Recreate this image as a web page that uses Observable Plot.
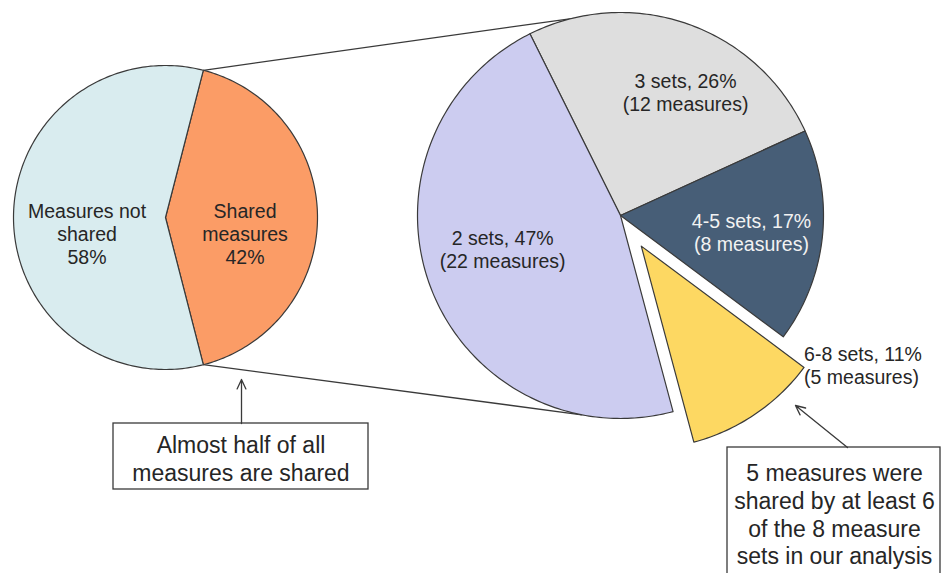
<!DOCTYPE html>
<html>
<head>
<meta charset="utf-8">
<script src="https://cdn.jsdelivr.net/npm/d3@7"></script>
<script src="https://cdn.jsdelivr.net/npm/@observablehq/plot@0.6"></script>
<style>
  html, body { margin: 0; padding: 0; background: #fff; }
  #chart svg { display: block; }
</style>
</head>
<body>
<div id="chart"></div>
<script>
// Overview pie: measures that appear in more than one measure set
const overviewKeys = ["shared", "notShared"];
const overviewLabels = ["Shared\nmeasures", "Measures not\nshared"];
const overviewPercents = [42, 58];

// Breakdown of the shared measures by number of measure sets (clockwise order)
const breakdownLabels = ["3 sets", "4-5 sets", "6-8 sets", "2 sets"];
const breakdownCounts = [12, 8, 5, 22];

// Callout texts
const calloutLeftLines = ["Almost half of all", "measures are shared"];
const calloutRightLines = ["5 measures were", "shared by at least 6", "of the 8 measure", "sets in our analysis"];

// ---- styling and layout ----
const W = 943, H = 573;
const deg = Math.PI / 180;
const font = "'Liberation Sans', Arial, Helvetica, sans-serif";
const outline = "#3a3a3a";
const textColor = "#262626";

const overviewFill = {shared: "#fb9c66", notShared: "#d9ecef"};
const breakdownFill = ["#dedede", "#475e77", "#fdd862", "#ccccf0"];
const breakdownText = [textColor, "#f2f2f2", textColor, textColor];

const pieL = {cx: 165, cy: 217, r: 152};
const pieR = {cx: 620, cy: 215, r: 203, start: -26.5 * deg};
const explodedIndex = 2;       // the 6-8 sets slice is pulled out
const explodeBy = 37;

// label placement inside the slices: radius fraction and angular nudge
const overviewLabelPos = [{rf: 0.534, da: 11.5 * deg}, {rf: 0.527, da: -11.6 * deg}];
const breakdownLabelPos = [{rf: 0.688, da: 8.3 * deg}, {rf: 0.65, da: 1 * deg}, null, {rf: 0.604, da: 4.8 * deg}];

// connector lines touch the breakdown pie at these angles
const connectTop = -14 * deg, connectBottom = 191 * deg;

const polar = (cx, cy, r, a) => ({x: cx + r * Math.sin(a), y: cy - r * Math.cos(a)});

function wedge(cx, cy, r, a0, a1, key, fill) {
  const n = Math.max(2, Math.ceil((a1 - a0) / deg));
  const pts = [{key, fill, x: cx, y: cy}];
  for (let i = 0; i <= n; ++i) {
    const p = polar(cx, cy, r, a0 + (a1 - a0) * i / n);
    pts.push({key, fill, x: p.x, y: p.y});
  }
  return pts;
}

// overview pie: shared slice centred on the right-hand side
const totalL = d3.sum(overviewPercents);
const startL = Math.PI / 2 - overviewPercents[0] / totalL * Math.PI;
const arcsL = d3.pie().sort(null).startAngle(startL).endAngle(startL + 2 * Math.PI)(overviewPercents);

const slices = [];
const labels = [];
arcsL.forEach((a, i) => {
  const key = overviewKeys[i];
  slices.push(...wedge(pieL.cx, pieL.cy, pieL.r, a.startAngle, a.endAngle, "L" + key, overviewFill[key]));
  const mid = (a.startAngle + a.endAngle) / 2 + overviewLabelPos[i].da;
  const p = polar(pieL.cx, pieL.cy, pieL.r * overviewLabelPos[i].rf, mid);
  labels.push({x: p.x, y: p.y, text: `${overviewLabels[i]}\n${overviewPercents[i]}%`, color: textColor});
});

// breakdown pie
const totalR = d3.sum(breakdownCounts);
const arcsR = d3.pie().sort(null).startAngle(pieR.start).endAngle(pieR.start + 2 * Math.PI)(breakdownCounts);
const outsideLabels = [];
arcsR.forEach((a, i) => {
  const mid = (a.startAngle + a.endAngle) / 2;
  let cx = pieR.cx, cy = pieR.cy;
  if (i === explodedIndex) {
    const o = polar(0, 0, explodeBy, mid);
    cx += o.x; cy += o.y;
  }
  slices.push(...wedge(cx, cy, pieR.r, a.startAngle, a.endAngle, "R" + i, breakdownFill[i]));
  const pct = Math.round(breakdownCounts[i] / totalR * 100);
  const text = `${breakdownLabels[i]}, ${pct}%\n(${breakdownCounts[i]} measures)`;
  if (breakdownLabelPos[i]) {
    const p = polar(pieR.cx, pieR.cy, pieR.r * breakdownLabelPos[i].rf, mid + breakdownLabelPos[i].da);
    labels.push({x: p.x, y: p.y, text, color: breakdownText[i]});
  } else {
    // placed just outside the outer corner of the pulled-out slice
    const p = polar(cx, cy, pieR.r, a.startAngle);
    outsideLabels.push({x: p.x, y: p.y - 2, text, color: breakdownText[i]});
  }
});

// connector lines from the shared slice to the breakdown pie
const sharedArc = arcsL[0];
const lTop = polar(pieL.cx, pieL.cy, pieL.r, sharedArc.startAngle);
const lBot = polar(pieL.cx, pieL.cy, pieL.r, sharedArc.endAngle);
const rTop = polar(pieR.cx, pieR.cy, pieR.r, connectTop);
const rBot = polar(pieR.cx, pieR.cy, pieR.r, connectBottom);
const connectors = [
  {x1: lTop.x, y1: lTop.y, x2: rTop.x, y2: rTop.y},
  {x1: lBot.x, y1: lBot.y, x2: rBot.x, y2: rBot.y}
];

// callout boxes and arrows
const callouts = [
  {x1: 113, x2: 368, y1: 423, y2: 489, tx: 240.5, ty: 457.5, text: calloutLeftLines.join("\n"),
   ax1: 241, ay1: 423, ax2: 241, ay2: 379},
  {x1: 727, x2: 940, y1: 447, y2: 600, tx: 834, ty: 513.5, text: calloutRightLines.join("\n"),
   ax1: 847, ay1: 447, ax2: 795, ay2: 405}
];

const chart = Plot.plot({
  width: W,
  height: H,
  margin: 0,
  x: {domain: [0, W], range: [0, W], axis: null},
  y: {domain: [0, H], range: [0, H], axis: null},
  color: {type: "identity"},
  style: {fontFamily: font, background: "#fff", overflow: "hidden"},
  marks: [
    Plot.link(connectors, {x1: "x1", y1: "y1", x2: "x2", y2: "y2", stroke: outline, strokeWidth: 1.3}),
    Plot.line(slices, {x: "x", y: "y", z: "key", fill: "fill", stroke: outline, strokeWidth: 1.2,
      curve: "linear-closed", strokeLinejoin: "round"}),
    Plot.text(labels, {x: "x", y: "y", text: "text", fill: "color", fontSize: 19.5, lineHeight: 1.19}),
    Plot.text(outsideLabels, {x: "x", y: "y", text: "text", fill: "color", fontSize: 19.5, lineHeight: 1.19,
      textAnchor: "start"}),
    Plot.rect(callouts, {x1: "x1", x2: "x2", y1: "y1", y2: "y2", fill: "#fff", stroke: outline, strokeWidth: 1.3}),
    Plot.arrow(callouts, {x1: "ax1", y1: "ay1", x2: "ax2", y2: "ay2", stroke: outline, strokeWidth: 1.3,
      headLength: 12, headAngle: 50}),
    Plot.text(callouts, {x: "tx", y: "ty", text: "text", fill: textColor, fontSize: 23, lineHeight: 1.2})
  ]
});

document.getElementById("chart").appendChild(chart);
</script>
</body>
</html>
